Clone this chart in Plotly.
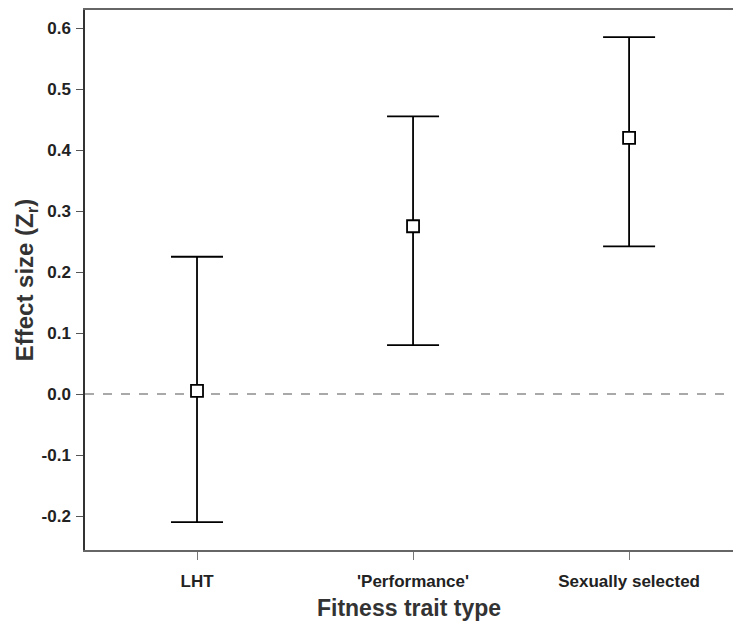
import plotly.graph_objects as go

categories = ["LHT", "'Performance'", "Sexually selected"]
means = [0.005, 0.275, 0.42]
lower = [-0.21, 0.08, 0.242]
upper = [0.225, 0.455, 0.585]
y_ticks = [-0.2, -0.1, 0.0, 0.1, 0.2, 0.3, 0.4, 0.5, 0.6]

xpos = list(range(len(categories)))
err_plus = [u - m for u, m in zip(upper, means)]
err_minus = [m - l for m, l in zip(means, lower)]

fig = go.Figure()
fig.add_shape(type="line", xref="paper", x0=0, x1=1, yref="y", y0=0, y1=0,
              line=dict(color="#555555", width=1.2, dash="dash"), layer="below")
fig.add_trace(go.Scatter(
    x=xpos, y=means, mode="markers",
    marker=dict(symbol="square", size=12, color="white",
                line=dict(color="black", width=1.8)),
    error_y=dict(type="data", symmetric=False, array=err_plus, arrayminus=err_minus,
                 color="black", thickness=1.8, width=26),
    showlegend=False,
))

font = "Liberation Sans, Arial, sans-serif"
fig.update_layout(
    width=733, height=633,
    margin=dict(l=85, r=0, t=10, b=83),
    paper_bgcolor="white", plot_bgcolor="white",
    font=dict(family=font, color="#222222"),
    xaxis=dict(
        range=[-0.5185, 2.481], tickvals=xpos, ticktext=categories,
        showgrid=False, zeroline=False, showline=True, linecolor="#666666", linewidth=1.5,
        mirror=True, ticks="outside", ticklen=8, tickcolor="#777777",
        tickfont=dict(size=17, family=font, color="#222222", weight="bold"),
        ticklabelstandoff=7,
        title=dict(text="Fitness trait type", standoff=10,
                   font=dict(size=23, family=font, color="#333333", weight="bold")),
    ),
    yaxis=dict(
        range=[-0.2557, 0.6295], tickvals=y_ticks,
        ticktext=[f"{v:.1f}" for v in y_ticks],
        showgrid=False, zeroline=False, showline=True, linecolor="#333333", linewidth=1.5,
        ticks="outside", ticklen=7, tickcolor="#555555",
        tickfont=dict(size=17, family=font, color="#222222", weight="bold"),
        ticklabelstandoff=2,
        title=dict(text="Effect size (Z<sub>r</sub>)", standoff=1,
                   font=dict(size=24, family=font, color="#333333", weight="bold")),
    ),
)
fig.write_html("out.html")
